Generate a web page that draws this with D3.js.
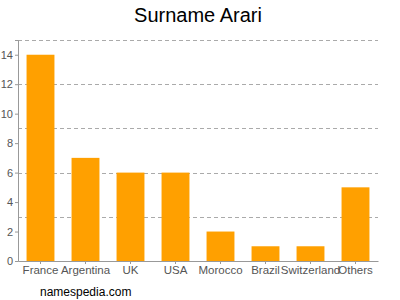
<!DOCTYPE html>
<html>
<head>
<meta charset="utf-8">
<script src="https://cdn.jsdelivr.net/npm/d3@7"></script>
<style>
  body { margin: 0; background: #fff; }
  text { font-family: "Liberation Sans", Arial, sans-serif; }
</style>
</head>
<body>
<div id="graph"></div>
<script>
// chart data
var countries = ["France", "Argentina", "UK", "USA", "Morocco", "Brazil", "Switzerland", "Others"];
var counts = [14, 7, 6, 6, 2, 1, 1, 5];
var yTicks = [0, 2, 4, 6, 8, 10, 12, 14];
var gridValues = [3, 6, 9, 12, 15];

var margin = {top: 40, right: 22, bottom: 39, left: 18},
    width = 400 - margin.left - margin.right,
    height = 300 - margin.top - margin.bottom;

var root = d3.select("#graph")
  .append("svg")
    .attr("width", 400)
    .attr("height", 300);

root.append("text")
  .attr("x", 198)
  .attr("y", 22)
  .attr("text-anchor", "middle")
  .style("font-size", "20px")
  .style("fill", "#000")
  .text("Surname Arari");

root.append("text")
  .attr("x", 40)
  .attr("y", 296)
  .style("font-size", "12px")
  .style("fill", "#000")
  .text("namespedia.com");

var svg = root.append("g")
  .attr("transform", "translate(" + margin.left + "," + margin.top + ")");

var x = d3.scaleBand()
  .domain(countries)
  .range([0, width])
  .paddingInner(0.38)
  .paddingOuter(0.19);

var y = d3.scaleLinear()
  .domain([0, 15])
  .range([height, 0]);

// dashed grid
svg.append("g")
  .selectAll("line")
  .data(gridValues)
  .enter()
  .append("line")
    .attr("x1", 0)
    .attr("x2", width)
    .attr("y1", function(d) { return Math.round(y(d)) + 0.5; })
    .attr("y2", function(d) { return Math.round(y(d)) + 0.5; })
    .attr("stroke", "#aaa")
    .attr("stroke-dasharray", "4,3");

// bars
svg.append("g")
  .selectAll("rect")
  .data(countries)
  .enter()
  .append("rect")
    .attr("x", function(d) { return x(d); })
    .attr("y", function(d, i) { return y(counts[i]); })
    .attr("width", x.bandwidth())
    .attr("height", function(d, i) { return height - y(counts[i]); })
    .attr("fill", "#ffa000");

// y axis
var yAxis = svg.append("g")
  .call(d3.axisLeft(y).tickValues(yTicks).tickSize(3).tickPadding(2));
yAxis.select(".domain").attr("stroke", "#999");
yAxis.selectAll(".tick line").attr("stroke", "#999");
yAxis.selectAll("text").style("font-size", "11px").style("fill", "#555")
  .style("font-family", "'Liberation Sans', Arial, sans-serif");

// x axis
var xAxis = svg.append("g")
  .attr("transform", "translate(0," + height + ")")
  .call(d3.axisBottom(x).tickSizeInner(3).tickSizeOuter(0).tickPadding(2));
xAxis.select(".domain").attr("stroke", "#999");
xAxis.selectAll(".tick line").attr("stroke", "#999");
xAxis.selectAll("text").style("font-size", "11.5px").style("fill", "#555")
  .style("font-family", "'Liberation Sans', Arial, sans-serif");
</script>
</body>
</html>
